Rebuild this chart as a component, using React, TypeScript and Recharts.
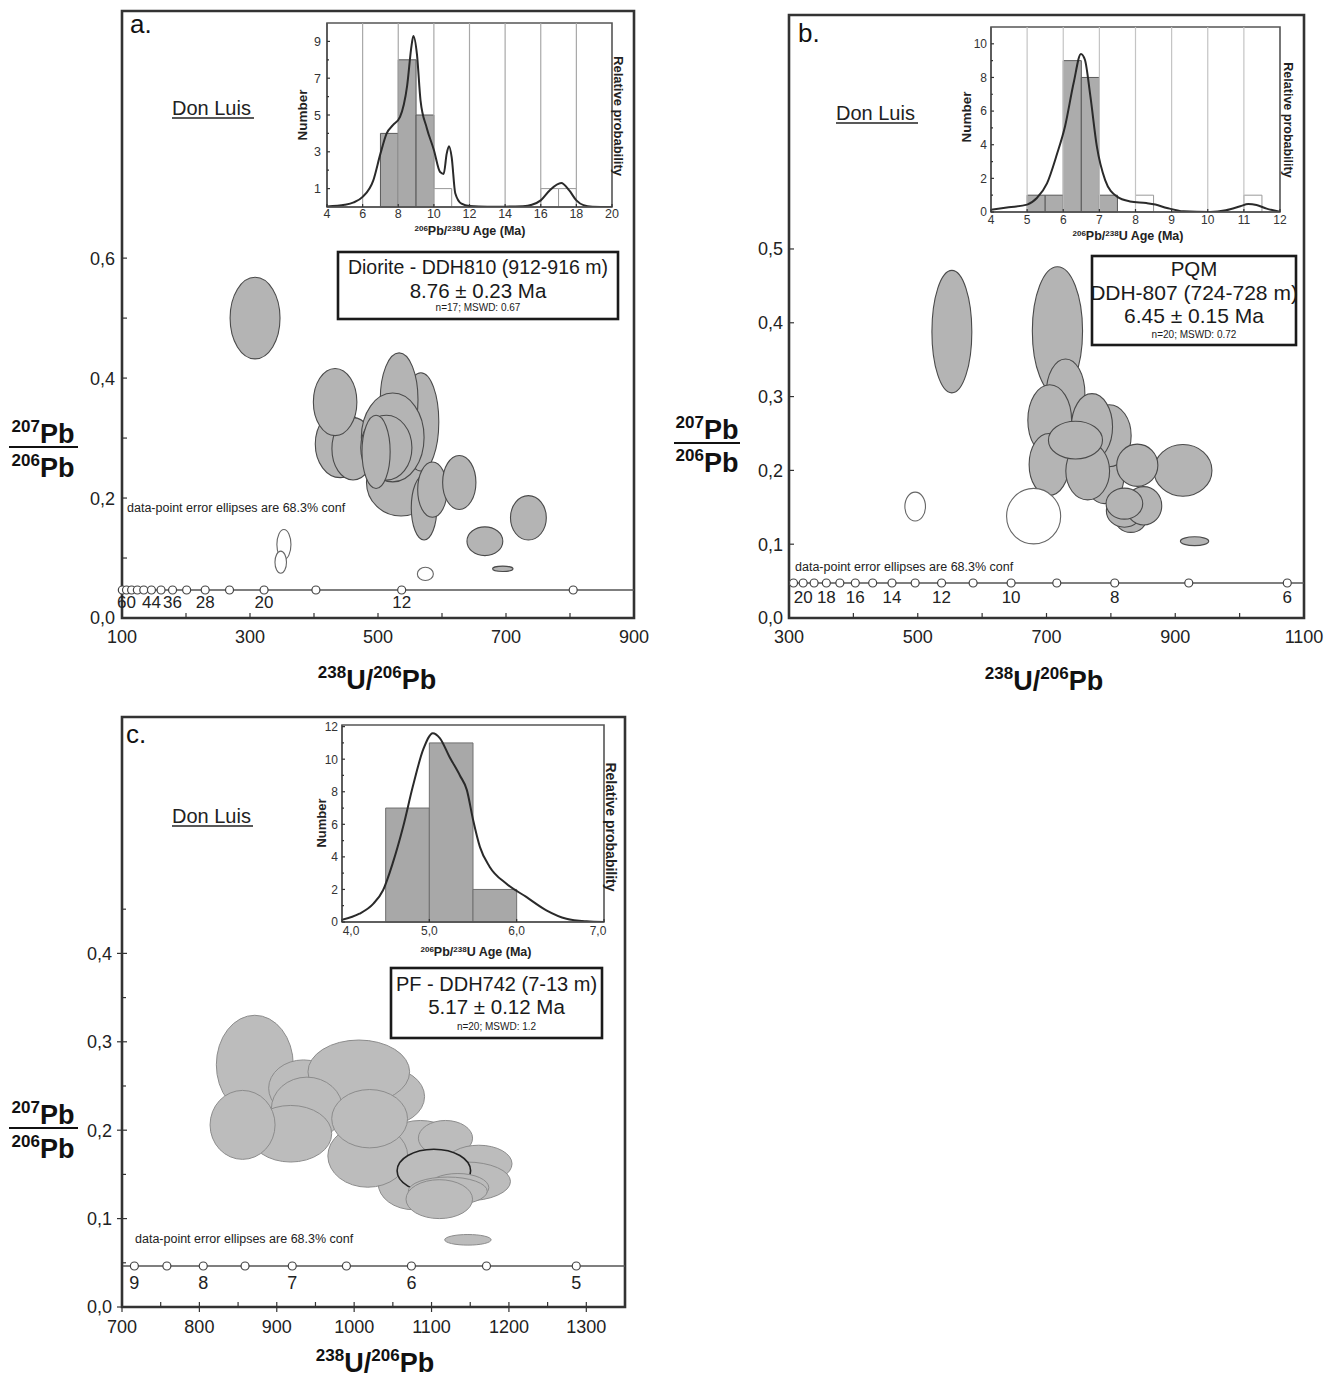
import React from 'react';
import { ComposedChart, XAxis, YAxis, ReferenceArea, ReferenceLine, Scatter, Line } from 'recharts';

const FONT = '"Liberation Sans", Arial, Helvetica, sans-serif';

// Spot: [238U/206Pb, 207Pb/206Pb, half-axis U/Pb, half-axis Pb/Pb, used in age (1) / rejected (0)]
type Spot = [number, number, number, number, number];

// ---------------- Panel a ----------------
const A_SPOTS: Spot[] = [
  [307.9, 0.5, 39, 0.068, 1],
  [536, 0.226, 54, 0.056, 1],
  [567, 0.327, 28, 0.082, 1],
  [533, 0.364, 29.5, 0.078, 1],
  [441, 0.29, 39, 0.056, 1],
  [461, 0.282, 33, 0.052, 1],
  [433, 0.36, 34, 0.056, 1],
  [523, 0.301, 49, 0.074, 1],
  [513, 0.284, 40, 0.054, 1],
  [497, 0.277, 22, 0.061, 1],
  [572, 0.184, 20, 0.054, 1],
  [585, 0.214, 23, 0.046, 1],
  [627, 0.226, 26, 0.045, 1],
  [735, 0.167, 28, 0.037, 1],
  [667, 0.128, 28, 0.024, 1],
  [695, 0.082, 16, 0.0045, 1],
  [574, 0.0735, 12.5, 0.011, 0],
  [353, 0.1225, 11, 0.025, 0],
  [348, 0.093, 9, 0.0185, 0],
];
const A_CONC_PB = 0.0467;
const A_CONC_RATIO = [100.5, 107, 115, 124, 134, 146, 161, 179, 201, 230, 268, 322, 403, 537, 805];
const A_CONC_AGE = [64, 60, 56, 52, 48, 44, 40, 36, 32, 28, 24, 20, 16, 12, 8];
const A_CONC_LABELED = [60, 44, 36, 28, 20, 12];
const A_X_TICKS = [100, 200, 300, 400, 500, 600, 700, 800, 900];
const A_X_LABELS = [100, 300, 500, 700, 900];
const A_Y_TICKS = [0, 0.1, 0.2, 0.3, 0.4, 0.5, 0.6];
const A_Y_LABELS = [0, 0.2, 0.4, 0.6];

const A_BIN_START = [7, 8, 9, 10, 16, 17];
const A_BIN_COUNT = [4, 8, 5, 1, 1, 1];
const A_BIN_USED = [1, 1, 1, 0, 0, 0];
const A_BIN_WIDTH = 1;
const A_PDF_AGE = [4, 5, 5.5, 6, 6.6, 7, 7.35, 7.7, 8.1, 8.5, 8.75, 8.85, 9.05, 9.25, 9.6, 10.0, 10.35, 10.55, 10.72, 10.85, 11.0, 11.2, 11.55, 12, 13, 14, 15, 15.5, 16, 16.5, 17.15, 17.6, 18, 18.4, 18.9, 20];
const A_PDF_P = [0.03, 0.12, 0.25, 0.55, 1.45, 2.9, 4.0, 4.45, 4.9, 6.6, 8.8, 9.3, 8.3, 5.8, 4.3, 3.1, 1.9, 1.8, 2.9, 3.3, 2.7, 0.75, 0.18, 0.05, 0.02, 0.02, 0.04, 0.12, 0.36, 0.9, 1.3, 0.9, 0.36, 0.1, 0.02, 0];
const A_H_X_TICKS = [4, 6, 8, 10, 12, 14, 16, 18, 20];
const A_H_GRID = [6, 8, 10, 12, 14, 16, 18];
const A_H_Y_TICKS = [1, 2, 3, 4, 5, 6, 7, 8, 9];
const A_H_Y_LABELS = [1, 3, 5, 7, 9];

// ---------------- Panel b ----------------
const B_SPOTS: Spot[] = [
  [553, 0.388, 31, 0.083, 1],
  [717, 0.389, 39, 0.087, 1],
  [790, 0.19, 30, 0.035, 1],
  [797.5, 0.247, 34, 0.042, 1],
  [729.6, 0.304, 30, 0.047, 1],
  [705, 0.268, 34, 0.048, 1],
  [704, 0.208, 31, 0.042, 1],
  [770.6, 0.259, 32, 0.045, 1],
  [764, 0.199, 34, 0.039, 1],
  [831, 0.136, 25, 0.02, 1],
  [821, 0.145, 28, 0.022, 1],
  [912, 0.2, 45, 0.035, 1],
  [841, 0.207, 32, 0.0286, 1],
  [851, 0.152, 28, 0.026, 1],
  [821, 0.155, 28.5, 0.021, 1],
  [745, 0.241, 42, 0.0256, 1],
  [930, 0.104, 22, 0.006, 1],
  [680, 0.138, 42, 0.0376, 0],
  [496, 0.151, 16, 0.0196, 0],
];
const B_CONC_PB = 0.0474;
const B_CONC_RATIO = [307, 322, 339, 358, 379, 403, 430, 460, 496, 537, 586, 645, 716, 806, 921, 1074];
const B_CONC_AGE = [21, 20, 19, 18, 17, 16, 15, 14, 13, 12, 11, 10, 9, 8, 7, 6];
const B_CONC_LABELED = [20, 18, 16, 14, 12, 10, 8, 6];
const B_X_TICKS = [300, 400, 500, 600, 700, 800, 900, 1000, 1100];
const B_X_LABELS = [300, 500, 700, 900, 1100];
const B_Y_TICKS = [0, 0.1, 0.2, 0.3, 0.4, 0.5];
const B_Y_LABELS = [0, 0.1, 0.2, 0.3, 0.4, 0.5];

const B_BIN_START = [5, 5.5, 6, 6.5, 7, 8, 11];
const B_BIN_COUNT = [1, 1, 9, 8, 1, 1, 1];
const B_BIN_USED = [1, 1, 1, 1, 1, 0, 0];
const B_BIN_WIDTH = 0.5;
const B_PDF_AGE = [4, 4.49, 5.0, 5.27, 5.55, 5.82, 6.05, 6.29, 6.49, 6.6, 6.75, 6.93, 7.16, 7.48, 7.85, 8.3, 8.55, 8.87, 9.33, 10.06, 10.5, 10.9, 11.12, 11.35, 11.63, 12];
const B_PDF_P = [0.14, 0.28, 0.44, 0.83, 1.7, 3.4, 5.1, 7.7, 9.4, 9.05, 6.9, 3.9, 1.9, 0.93, 0.63, 0.53, 0.44, 0.24, 0.04, 0, 0.1, 0.34, 0.48, 0.42, 0.2, 0.02];
const B_H_X_TICKS = [4, 5, 6, 7, 8, 9, 10, 11, 12];
const B_H_GRID = [5, 6, 7, 8, 9, 10, 11];
const B_H_Y_TICKS = [0, 1, 2, 3, 4, 5, 6, 7, 8, 9, 10];
const B_H_Y_LABELS = [0, 2, 4, 6, 8, 10];

// ---------------- Panel c ----------------
const C_SPOTS: Spot[] = [
  [871.6, 0.274, 49.7, 0.056, 1],
  [1039, 0.238, 52, 0.033, 1],
  [934.5, 0.2475, 45, 0.032, 1],
  [1006, 0.266, 65.7, 0.036, 1],
  [939, 0.224, 46, 0.036, 1],
  [918, 0.196, 53, 0.032, 1],
  [855.8, 0.206, 42, 0.039, 1],
  [1085.5, 0.183, 48, 0.028, 1],
  [1118, 0.191, 35, 0.02, 1],
  [1077, 0.14, 46, 0.03, 1],
  [1017.6, 0.171, 51.6, 0.0355, 1],
  [1020, 0.213, 49, 0.033, 1],
  [1161, 0.162, 43, 0.021, 1],
  [1145, 0.142, 57, 0.022, 1],
  [1103, 0.154, 47.5, 0.0245, 1],
  [1134, 0.135, 40, 0.016, 1],
  [1121, 0.131, 51, 0.016, 1],
  [1110, 0.122, 43, 0.022, 1],
  [1147, 0.076, 30, 0.006, 1],
];
const C_DARK_SPOT = 14;
const C_CONC_PB = 0.0464;
const C_CONC_RATIO = [716, 758, 805, 859, 920, 990, 1074, 1171, 1287];
const C_CONC_AGE = [9, 8.5, 8, 7.5, 7, 6.5, 6, 5.5, 5];
const C_CONC_LABELED = [9, 8, 7, 6, 5];
const C_X_TICKS = [700, 750, 800, 850, 900, 950, 1000, 1050, 1100, 1150, 1200, 1250, 1300, 1350];
const C_X_LABELS = [700, 800, 900, 1000, 1100, 1200, 1300];
const C_Y_TICKS = [0, 0.05, 0.1, 0.15, 0.2, 0.25, 0.3, 0.35, 0.4, 0.45];
const C_Y_LABELS = [0, 0.1, 0.2, 0.3, 0.4];

const C_BIN_START = [4.5, 5.0, 5.5];
const C_BIN_COUNT = [7, 11, 2];
const C_BIN_USED = [1, 1, 1];
const C_BIN_WIDTH = 0.5;
const C_PDF_AGE = [4.0, 4.2, 4.36, 4.47, 4.58, 4.7, 4.81, 4.93, 5.04, 5.12, 5.23, 5.35, 5.43, 5.5, 5.58, 5.69, 5.88, 6.11, 6.34, 6.57, 6.8, 7.0];
const C_PDF_P = [0.14, 0.51, 1.13, 1.95, 3.6, 5.85, 8.3, 10.6, 11.6, 11.3, 10.15, 9.0, 8.1, 6.3, 4.6, 3.4, 2.36, 1.54, 0.72, 0.2, 0.04, 0];
const C_H_X_TICKS = [4, 5, 6, 7];
const C_H_Y_TICKS = [0, 1, 2, 3, 4, 5, 6, 7, 8, 9, 10, 11, 12];
const C_H_Y_LABELS = [0, 2, 4, 6, 8, 10, 12];

// ---------------- helpers ----------------
const has = (arr: number[], v: number) => arr.some((a) => Math.abs(a - v) < 1e-6);
const comma = (d: number) => (v: number) => v.toFixed(d).replace('.', ',');
const plain = (v: number) => String(v);

const mkEllipse = (fill: string, stroke: string, sw: number) => (p: any) => {
  const w = Math.abs(p.width || 0);
  const h = Math.abs(p.height || 0);
  const x0 = p.width < 0 ? p.x + p.width : p.x;
  const y0 = p.height < 0 ? p.y + p.height : p.y;
  return <ellipse cx={x0 + w / 2} cy={y0 + h / 2} rx={w / 2} ry={h / 2} fill={fill} stroke={stroke} strokeWidth={sw} />;
};

type TickOpt = {
  labels: number[]; fmt: (v: number) => string; fs: number; off: number;
  inMaj: number; inMin: number; outMaj: number; outMin: number; color?: string;
  firstShift?: number; lastShift?: number;
};

const xTickR = (o: TickOpt) => (p: any) => {
  const v = p.payload.value;
  const show = has(o.labels, v);
  let shift = 0;
  if (show && o.firstShift && Math.abs(v - o.labels[0]) < 1e-6) shift = o.firstShift;
  if (show && o.lastShift && Math.abs(v - o.labels[o.labels.length - 1]) < 1e-6) shift = o.lastShift;
  return (
    <g>
      <line x1={p.x} x2={p.x} y1={p.y - (show ? o.inMaj : o.inMin)} y2={p.y + (show ? o.outMaj : o.outMin)} stroke="#333" strokeWidth={1.2} />
      {show && (
        <text x={p.x + shift} y={p.y + o.off} textAnchor="middle" fontSize={o.fs} fill={o.color || '#222'} fontFamily={FONT}>
          {o.fmt(v)}
        </text>
      )}
    </g>
  );
};

const yTickR = (o: TickOpt) => (p: any) => {
  const v = p.payload.value;
  const show = has(o.labels, v);
  return (
    <g>
      <line x1={p.x - (show ? o.outMaj : o.outMin)} x2={p.x + (show ? o.inMaj : o.inMin)} y1={p.y} y2={p.y} stroke="#333" strokeWidth={1.2} />
      {show && (
        <text x={p.x - o.off} y={p.y} dy="0.36em" textAnchor="end" fontSize={o.fs} fill={o.color || '#222'} fontFamily={FONT}>
          {o.fmt(v)}
        </text>
      )}
    </g>
  );
};

type MainCfg = {
  left: number; top: number; width: number; height: number;
  yAxisW: number; mRight: number; mTop: number; xAxisH: number;
  xDomain: [number, number]; yDomain: [number, number];
  xTicks: number[]; xLabels: number[]; yTicks: number[]; yLabels: number[];
  xOpt: Partial<TickOpt>; yOpt: Partial<TickOpt>;
  spots: Spot[]; fill: string; stroke: string; sw: number; darkIdx?: number;
  concPb: number; concRatio: number[]; concAge: number[]; concLabeled: number[];
  concFs: number; concOff: number;
};

function MainPanel(c: MainCfg) {
  const conc = c.concRatio.map((r) => ({ x: r, y: c.concPb }));
  const concLab = c.concRatio
    .map((r, i) => ({ x: r, y: c.concPb, age: c.concAge[i] }))
    .filter((d) => has(c.concLabeled, d.age));
  const xo: TickOpt = { labels: c.xLabels, fmt: plain, fs: 18, off: 24.5, inMaj: 5, inMin: 5, outMaj: 0, outMin: 0, ...c.xOpt } as TickOpt;
  const yo: TickOpt = { labels: c.yLabels, fmt: comma(1), fs: 18, off: 7, inMaj: 5, inMin: 5, outMaj: 0, outMin: 0, ...c.yOpt } as TickOpt;
  return (
    <div style={{ position: 'absolute', left: c.left, top: c.top, width: c.width, height: c.height }}>
      <ComposedChart width={c.width} height={c.height} margin={{ top: c.mTop, right: c.mRight, bottom: 0, left: 0 }} style={{ fontFamily: FONT, overflow: 'visible' }}>
        <XAxis type="number" dataKey="x" domain={c.xDomain} ticks={c.xTicks} interval={0} height={c.xAxisH}
          tickSize={0} tickMargin={0} tickLine={false} axisLine={{ stroke: '#333', strokeWidth: 2 }} tick={xTickR(xo)} />
        <YAxis type="number" dataKey="y" domain={c.yDomain} ticks={c.yTicks} interval={0} width={c.yAxisW}
          tickSize={0} tickMargin={0} tickLine={false} axisLine={{ stroke: '#333', strokeWidth: 2 }} tick={yTickR(yo)} />
        {c.spots.map((s, i) => (
          <ReferenceArea key={'e' + i} x1={s[0] - s[2]} x2={s[0] + s[2]} y1={s[1] - s[3]} y2={s[1] + s[3]} ifOverflow="visible"
            shape={mkEllipse(s[4] ? c.fill : '#ffffff', i === c.darkIdx ? '#222' : s[4] ? c.stroke : '#666', i === c.darkIdx ? 1.6 : c.sw)} />
        ))}
        <ReferenceLine y={c.concPb} stroke="#555" strokeWidth={1.4} />
        <Scatter data={conc} isAnimationActive={false}
          shape={(p: any) => <circle cx={p.cx} cy={p.cy} r={4} fill="#fff" stroke="#444" strokeWidth={1.2} />} />
        <Scatter data={concLab} isAnimationActive={false}
          shape={(p: any) => (
            <text x={p.cx} y={p.cy + c.concOff} textAnchor="middle" fontSize={c.concFs} fill="#222" fontFamily={FONT}>
              {p.payload.age}
            </text>
          )} />
        <ReferenceArea x1={c.xDomain[0]} x2={c.xDomain[1]} y1={c.yDomain[0]} y2={c.yDomain[1]} ifOverflow="visible"
          fill="none" fillOpacity={0} stroke="#333" strokeWidth={2.6} />
      </ComposedChart>
    </div>
  );
}

type InsetCfg = {
  left: number; top: number; width: number; height: number;
  yAxisW: number; mRight: number; mTop: number; xAxisH: number;
  xDomain: [number, number]; yDomain: [number, number];
  xTicks: number[]; xLabels: number[]; xFmt: (v: number) => string;
  yTicks: number[]; yLabels: number[];
  grid: number[]; gridColor: string;
  binStart: number[]; binCount: number[]; binUsed: number[]; binWidth: number;
  pdfAge: number[]; pdfP: number[];
  fs: number; xOff: number; yOff: number; barFill: string; barStroke: string;
  firstShift?: number; lastShift?: number;
};

function InsetPanel(c: InsetCfg) {
  const data = c.pdfAge.map((a, i) => ({ age: a, p: c.pdfP[i] }));
  const xo: TickOpt = { labels: c.xLabels, fmt: c.xFmt, fs: c.fs, off: c.xOff, inMaj: 3, inMin: 2, outMaj: 0, outMin: 0, color: '#333', firstShift: c.firstShift, lastShift: c.lastShift };
  const yo: TickOpt = { labels: c.yLabels, fmt: plain, fs: c.fs, off: c.yOff, inMaj: 3, inMin: 2, outMaj: 0, outMin: 0, color: '#333' };
  return (
    <div style={{ position: 'absolute', left: c.left, top: c.top, width: c.width, height: c.height }}>
      <ComposedChart width={c.width} height={c.height} data={data} margin={{ top: c.mTop, right: c.mRight, bottom: 0, left: 0 }} style={{ fontFamily: FONT }}>
        <XAxis type="number" dataKey="age" domain={c.xDomain} ticks={c.xTicks} allowDataOverflow interval={0} height={c.xAxisH}
          tickSize={0} tickMargin={0} tickLine={false} axisLine={{ stroke: '#555', strokeWidth: 1.5 }} tick={xTickR(xo)} />
        <YAxis type="number" domain={c.yDomain} ticks={c.yTicks} allowDataOverflow interval={0} width={c.yAxisW}
          tickSize={0} tickMargin={0} tickLine={false} axisLine={{ stroke: '#555', strokeWidth: 1.5 }} tick={yTickR(yo)} />
        {c.grid.map((g) => (
          <ReferenceLine key={'g' + g} x={g} stroke={c.gridColor} strokeWidth={1.2} />
        ))}
        {c.binStart.map((b, i) => (
          <ReferenceArea key={'b' + i} x1={b} x2={b + c.binWidth} y1={0} y2={c.binCount[i]} ifOverflow="visible"
            fill={c.binUsed[i] ? c.barFill : '#ffffff'} fillOpacity={1} stroke={c.binUsed[i] ? c.barStroke : '#999'} strokeWidth={1} />
        ))}
        <Line type="monotone" dataKey="p" stroke="#2a2a2a" strokeWidth={2} dot={false} isAnimationActive={false} />
        <ReferenceArea x1={c.xDomain[0]} x2={c.xDomain[1]} y1={c.yDomain[0]} y2={c.yDomain[1]} ifOverflow="visible"
          fill="none" fillOpacity={0} stroke="#555" strokeWidth={1.6} />
      </ComposedChart>
    </div>
  );
}

// ---------------- text helpers ----------------
const IsoTitle = ({ x, y, fs, sfs, a, b }: { x: number; y: number; fs: number; sfs: number; a: [string, string]; b: [string, string] }) => {
  const up = Math.round(fs * 0.4);
  return (
    <text x={x} y={y} textAnchor="middle" fontSize={fs} fontWeight="bold" fill="#111" fontFamily={FONT}>
      <tspan fontSize={sfs} dy={-up}>{a[0]}</tspan>
      <tspan dy={up}>{a[1]}/</tspan>
      <tspan fontSize={sfs} dy={-up}>{b[0]}</tspan>
      <tspan dy={up}>{b[1]}</tspan>
    </text>
  );
};

const Iso = ({ x, y, fs, sfs, m, el }: { x: number; y: number; fs: number; sfs: number; m: string; el: string }) => {
  const up = Math.round(fs * 0.4);
  return (
    <text x={x} y={y} textAnchor="middle" fontSize={fs} fontWeight="bold" fill="#111" fontFamily={FONT}>
      <tspan fontSize={sfs} dy={-up}>{m}</tspan>
      <tspan dy={up}>{el}</tspan>
    </text>
  );
};

const Fraction = ({ cx, yTop, yLine, yBot, x1, x2 }: { cx: number; yTop: number; yLine: number; yBot: number; x1: number; x2: number }) => (
  <g>
    <Iso x={cx} y={yTop} fs={27} sfs={17} m="207" el="Pb" />
    <line x1={x1} x2={x2} y1={yLine} y2={yLine} stroke="#111" strokeWidth={2} />
    <Iso x={cx} y={yBot} fs={27} sfs={17} m="206" el="Pb" />
  </g>
);

const InsetXTitle = ({ x, y, fs }: { x: number; y: number; fs: number }) => {
  const up = Math.round(fs * 0.35);
  const s = Math.round(fs * 0.62);
  return (
    <text x={x} y={y} textAnchor="middle" fontSize={fs} fontWeight="bold" fill="#222" fontFamily={FONT}>
      <tspan fontSize={s} dy={-up}>206</tspan>
      <tspan dy={up}>Pb/</tspan>
      <tspan fontSize={s} dy={-up}>238</tspan>
      <tspan dy={up}>U Age (Ma)</tspan>
    </text>
  );
};

const VText = ({ x, y, fs, rot, children }: { x: number; y: number; fs: number; rot: number; children: React.ReactNode }) => (
  <text transform={`translate(${x},${y}) rotate(${rot})`} textAnchor="middle" dy="0.35em" fontSize={fs} fontWeight="bold" fill="#222" fontFamily={FONT}>
    {children}
  </text>
);

const Underlined = ({ x, y, fs, w, text }: { x: number; y: number; fs: number; w: number; text: string }) => (
  <g>
    <text x={x} y={y} fontSize={fs} fill="#222" fontFamily={FONT}>{text}</text>
    <line x1={x} x2={x + w} y1={y + 3} y2={y + 3} stroke="#222" strokeWidth={1.3} />
  </g>
);

const Box = ({ x, y, w, h, lines }: { x: number; y: number; w: number; h: number; lines: { t: string; y: number; fs: number }[] }) => (
  <g>
    <rect x={x} y={y} width={w} height={h} fill="#fff" stroke="#1a1a1a" strokeWidth={2.6} />
    {lines.map((l, i) => (
      <text key={i} x={x + w / 2} y={l.y} textAnchor="middle" fontSize={l.fs} fill="#1a1a1a" fontFamily={FONT}>{l.t}</text>
    ))}
  </g>
);

export default function App() {
  return (
    <div style={{ position: 'absolute', left: 0, top: 0, width: 1340, height: 1378, background: '#fff', overflow: 'hidden' }}>
      {/* Panel a */}
      <MainPanel left={0} top={0} width={660} height={700} yAxisW={122} mRight={26} mTop={11} xAxisH={82}
        xDomain={[100, 900]} yDomain={[0, 1.012]} xTicks={A_X_TICKS} xLabels={A_X_LABELS} yTicks={A_Y_TICKS} yLabels={A_Y_LABELS}
        xOpt={{ off: 24.5 }} yOpt={{ off: 7 }}
        spots={A_SPOTS} fill="#b4b4b4" stroke="#4a4a4a" sw={1.1}
        concPb={A_CONC_PB} concRatio={A_CONC_RATIO} concAge={A_CONC_AGE} concLabeled={A_CONC_LABELED} concFs={17} concOff={18.5} />
      <InsetPanel left={270} top={0} width={360} height={240} yAxisW={57} mRight={18} mTop={23} xAxisH={33}
        xDomain={[4, 20]} yDomain={[0, 10]} xTicks={A_H_X_TICKS} xLabels={A_H_X_TICKS} xFmt={plain}
        yTicks={A_H_Y_TICKS} yLabels={A_H_Y_LABELS} grid={A_H_GRID} gridColor="#a8a8a8"
        binStart={A_BIN_START} binCount={A_BIN_COUNT} binUsed={A_BIN_USED} binWidth={A_BIN_WIDTH}
        pdfAge={A_PDF_AGE} pdfP={A_PDF_P} fs={12.5} xOff={10.5} yOff={6} barFill="#a9a9a9" barStroke="#5a5a5a" />

      {/* Panel b */}
      <MainPanel left={670} top={0} width={670} height={700} yAxisW={119} mRight={36} mTop={15} xAxisH={82}
        xDomain={[300, 1100]} yDomain={[0, 0.817]} xTicks={B_X_TICKS} xLabels={B_X_LABELS} yTicks={B_Y_TICKS} yLabels={B_Y_LABELS}
        xOpt={{ off: 24.5 }} yOpt={{ off: 6 }}
        spots={B_SPOTS} fill="#b4b4b4" stroke="#4a4a4a" sw={1.1}
        concPb={B_CONC_PB} concRatio={B_CONC_RATIO} concAge={B_CONC_AGE} concLabeled={B_CONC_LABELED} concFs={17} concOff={20} />
      <InsetPanel left={930} top={0} width={380} height={250} yAxisW={61} mRight={30} mTop={27} xAxisH={38}
        xDomain={[4, 12]} yDomain={[0, 11]} xTicks={B_H_X_TICKS} xLabels={B_H_X_TICKS} xFmt={plain}
        yTicks={B_H_Y_TICKS} yLabels={B_H_Y_LABELS} grid={B_H_GRID} gridColor="#c4c4c4"
        binStart={B_BIN_START} binCount={B_BIN_COUNT} binUsed={B_BIN_USED} binWidth={B_BIN_WIDTH}
        pdfAge={B_PDF_AGE} pdfP={B_PDF_P} fs={12} xOff={12} yOff={4} barFill="#acacac" barStroke="#5a5a5a" />

      {/* Panel c */}
      <MainPanel left={0} top={700} width={660} height={678} yAxisW={122} mRight={35} mTop={17} xAxisH={71}
        xDomain={[700, 1350]} yDomain={[0, 0.6674]} xTicks={C_X_TICKS} xLabels={C_X_LABELS} yTicks={C_Y_TICKS} yLabels={C_Y_LABELS}
        xOpt={{ off: 25.5, inMaj: 5, inMin: 5, outMaj: 5 }} yOpt={{ off: 10, outMaj: 5, inMaj: 5, inMin: 4 }}
        spots={C_SPOTS} fill="#bcbcbc" stroke="#8c8c8c" sw={1} darkIdx={C_DARK_SPOT}
        concPb={C_CONC_PB} concRatio={C_CONC_RATIO} concAge={C_CONC_AGE} concLabeled={C_CONC_LABELED} concFs={18} concOff={23} />
      <InsetPanel left={280} top={700} width={340} height={260} yAxisW={62} mRight={16} mTop={25} xAxisH={38}
        xDomain={[4, 7]} yDomain={[0, 12.1]} xTicks={C_H_X_TICKS} xLabels={C_H_X_TICKS} xFmt={comma(1)}
        yTicks={C_H_Y_TICKS} yLabels={C_H_Y_LABELS} grid={[]} gridColor="#ccc"
        binStart={C_BIN_START} binCount={C_BIN_COUNT} binUsed={C_BIN_USED} binWidth={C_BIN_WIDTH}
        pdfAge={C_PDF_AGE} pdfP={C_PDF_P} fs={12} xOff={12.5} yOff={4} barFill="#a8a8a8" barStroke="#707070"
        firstShift={9} lastShift={-6} />

      {/* Annotations */}
      <svg width={1340} height={1378} style={{ position: 'absolute', left: 0, top: 0, pointerEvents: 'none' }}>
        {/* a */}
        <text x={130} y={33} fontSize={26} fill="#111" fontFamily={FONT}>a.</text>
        <Underlined x={172} y={115} fs={20} w={82} text="Don Luis" />
        <text x={127} y={512} fontSize={12.5} fill="#222" fontFamily={FONT}>data-point error ellipses are 68.3% conf</text>
        <Box x={338} y={252} w={280} h={67} lines={[
          { t: 'Diorite - DDH810 (912-916 m)', y: 274, fs: 19.5 },
          { t: '8.76 ± 0.23 Ma', y: 298, fs: 20.5 },
          { t: 'n=17; MSWD: 0.67', y: 311, fs: 10 },
        ]} />
        <IsoTitle x={377} y={689} fs={27} sfs={17} a={['238', 'U']} b={['206', 'Pb']} />
        <Fraction cx={43} yTop={443} yLine={447} yBot={477} x1={9} x2={78} />
        <VText x={302} y={115} fs={13.5} rot={-90}>Number</VText>
        <VText x={619} y={116} fs={13} rot={90}>Relative probability</VText>
        <InsetXTitle x={470} y={235} fs={12.5} />

        {/* b */}
        <text x={798} y={42} fontSize={26} fill="#111" fontFamily={FONT}>b.</text>
        <Underlined x={836} y={120} fs={20} w={82} text="Don Luis" />
        <text x={795} y={571} fontSize={12.5} fill="#222" fontFamily={FONT}>data-point error ellipses are 68.3% conf</text>
        <Box x={1092} y={256} w={204} h={89} lines={[
          { t: 'PQM', y: 276, fs: 20.5 },
          { t: 'DDH-807 (724-728 m)', y: 300, fs: 21 },
          { t: '6.45 ± 0.15 Ma', y: 323, fs: 21 },
          { t: 'n=20; MSWD: 0.72', y: 338, fs: 10 },
        ]} />
        <IsoTitle x={1044} y={690} fs={27} sfs={17} a={['238', 'U']} b={['206', 'Pb']} />
        <Fraction cx={707} yTop={439} yLine={443} yBot={472} x1={674} x2={740} />
        <VText x={966} y={117} fs={13.5} rot={-90}>Number</VText>
        <VText x={1288} y={120} fs={12.5} rot={90}>Relative probability</VText>
        <InsetXTitle x={1128} y={240} fs={12.5} />

        {/* c */}
        <text x={126} y={743} fontSize={26} fill="#111" fontFamily={FONT}>c.</text>
        <Underlined x={172} y={823} fs={20} w={81} text="Don Luis" />
        <text x={135} y={1243} fontSize={12.5} fill="#222" fontFamily={FONT}>data-point error ellipses are 68.3% conf</text>
        <Box x={391} y={968} w={211} h={70} lines={[
          { t: 'PF - DDH742 (7-13 m)', y: 991, fs: 20 },
          { t: '5.17 ± 0.12 Ma', y: 1014, fs: 20.5 },
          { t: 'n=20; MSWD: 1.2', y: 1030, fs: 10 },
        ]} />
        <IsoTitle x={375} y={1372} fs={27} sfs={17} a={['238', 'U']} b={['206', 'Pb']} />
        <Fraction cx={43} yTop={1124} yLine={1128} yBot={1158} x1={9} x2={78} />
        <VText x={321} y={823} fs={13} rot={-90}>Number</VText>
        <VText x={611} y={827} fs={14} rot={90}>Relative probability</VText>
        <InsetXTitle x={476} y={956} fs={12.5} />
      </svg>
    </div>
  );
}
